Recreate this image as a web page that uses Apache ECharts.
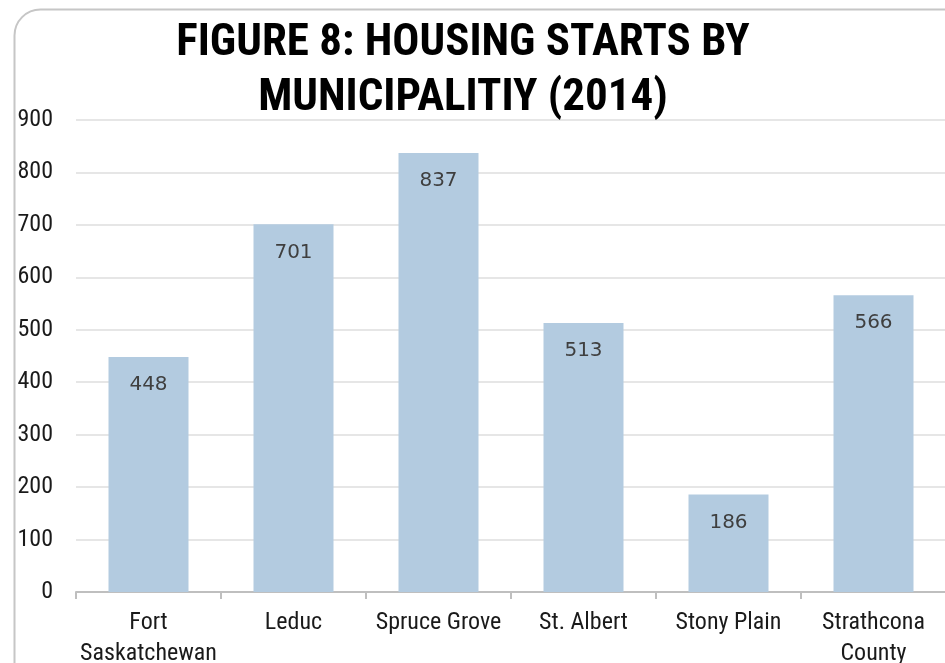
<!DOCTYPE html>
<html>
<head>
<meta charset="utf-8">
<script src="https://cdn.jsdelivr.net/npm/echarts@6/dist/echarts.min.js"></script>
<style>
html,body{margin:0;padding:0;background:#fff;}
#chart{width:945px;height:663px;}
</style>
</head>
<body>
<div id="chart"></div>
<script>
const titleText = "FIGURE 8: HOUSING STARTS BY\nMUNICIPALITIY (2014)";
const categories = ["Fort\nSaskatchewan", "Leduc", "Spruce Grove", "St. Albert", "Stony Plain", "Strathcona\nCounty"];
const starts = [448, 701, 837, 513, 186, 566];
const yTicks = [0, 100, 200, 300, 400, 500, 600, 700, 800, 900];

const chart = echarts.init(document.getElementById('chart'), null, {renderer: 'canvas'});
const condensed = '"Liberation Sans Narrow", "Roboto Condensed", "DejaVu Sans Condensed", sans-serif';
chart.setOption({
  animation: false,
  backgroundColor: '#fff',
  graphic: [{
    type: 'rect',
    left: 12, top: 7,
    shape: {width: 960, height: 700, r: 26},
    style: {fill: 'none', stroke: '#c6c6c6', lineWidth: 2},
    silent: true, z: -10
  }],
  title: {
    text: titleText,
    left: 458, top: 11,
    textAlign: 'center',
    textStyle: {
      fontFamily: condensed,
      fontWeight: 'bold',
      fontSize: 45,
      lineHeight: 55,
      color: '#000'
    }
  },
  grid: {left: 76, right: -1, top: 120, bottom: 71, containLabel: false, outerBoundsMode: 'none'},
  xAxis: {
    type: 'category',
    data: categories,
    axisLine: {lineStyle: {color: '#bfbfbf', width: 2}},
    axisTick: {show: true, length: 7, lineStyle: {color: '#bfbfbf', width: 2}},
    axisLabel: {
      margin: 15,
      fontFamily: condensed,
      fontSize: 24,
      lineHeight: 31,
      color: '#1a1a1a',
      interval: 0
    }
  },
  yAxis: {
    type: 'value',
    min: yTicks[0],
    max: yTicks[yTicks.length - 1],
    interval: 100,
    axisLine: {show: false},
    axisTick: {show: false},
    splitLine: {lineStyle: {color: '#e6e6e6', width: 2}},
    axisLabel: {
      margin: 23,
      fontFamily: condensed,
      fontSize: 24,
      color: '#1a1a1a'
    }
  },
  series: [{
    type: 'bar',
    data: starts,
    barWidth: 80,
    itemStyle: {color: '#b3cbe0'},
    label: {
      show: true,
      position: 'insideTop',
      distance: 18,
      fontFamily: '"DejaVu Sans", sans-serif',
      fontSize: 20,
      color: '#3f3f3f'
    }
  }]
});
</script>
</body>
</html>
